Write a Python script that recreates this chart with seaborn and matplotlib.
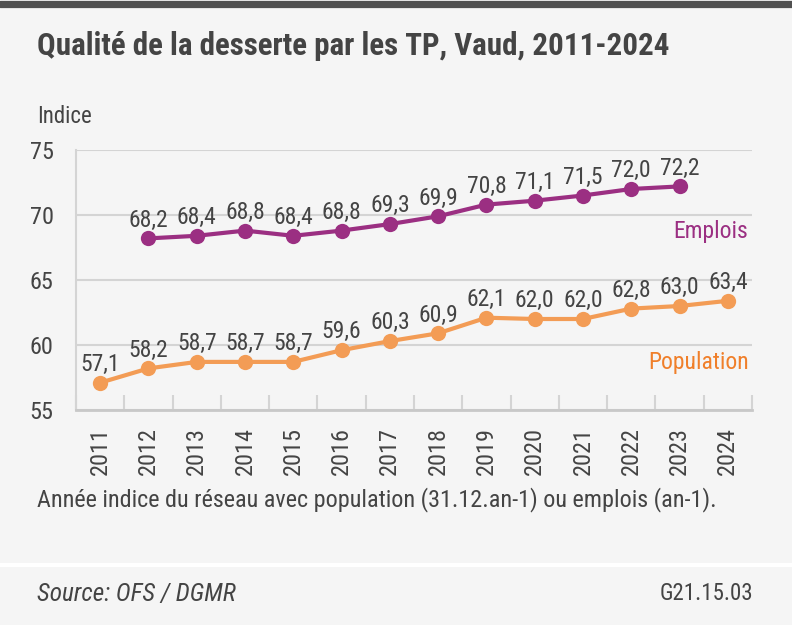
import matplotlib
matplotlib.use("Agg")
import matplotlib.pyplot as plt
from matplotlib import font_manager as fm
import seaborn as sns
import pandas as pd
from matplotlib.lines import Line2D
from matplotlib.ticker import FixedLocator

years = [2011, 2012, 2013, 2014, 2015, 2016, 2017, 2018, 2019, 2020, 2021, 2022, 2023, 2024]
population = [57.1, 58.2, 58.7, 58.7, 58.7, 59.6, 60.3, 60.9, 62.1, 62.0, 62.0, 62.8, 63.0, 63.4]
emplois_years = [2012, 2013, 2014, 2015, 2016, 2017, 2018, 2019, 2020, 2021, 2022, 2023]
emplois = [68.2, 68.4, 68.8, 68.4, 68.8, 69.3, 69.9, 70.8, 71.1, 71.5, 72.0, 72.2]
y_ticks = [55, 60, 65, 70, 75]

title = "Qualité de la desserte par les TP, Vaud, 2011-2024"
ylabel = "Indice"
note = "Année indice du réseau avec population (31.12.an-1) ou emplois (an-1)."
source = "Source: OFS / DGMR"
code = "G21.15.03"

BG = "#f5f5f5"
TXT = "#444444"
PURPLE = "#9b2f82"
ORANGE = "#f39c55"
ORANGE_TXT = "#f07f2a"
GRID = "#d4d4d4"

sns.set_theme(style="white")

# look for a narrow / condensed sans-serif face, otherwise Liberation Sans at reduced size
entries = fm.fontManager.ttflist
names = {f.name for f in entries}
chosen = None
for n in ["Liberation Sans Narrow", "Arial Narrow", "Roboto Condensed",
          "Open Sans Condensed", "Noto Sans Condensed"]:
    if n in names:
        chosen = (n, "normal")
        break
if chosen is None:
    for fam in ["Noto Sans", "Open Sans", "Roboto"]:
        cands = [f for f in entries if f.name == fam and f.stretch in ("condensed", "semi-condensed", 75, 87.5)]
        if cands:
            chosen = (fam, cands[0].stretch)
            break

if chosen is not None:
    plt.rcParams["font.family"] = [chosen[0], "Liberation Sans", "DejaVu Sans"]
    plt.rcParams["font.stretch"] = chosen[1]
    k = 1.0
else:
    plt.rcParams["font.family"] = ["Liberation Sans", "DejaVu Sans"]
    k = 0.86

fig = plt.figure(figsize=(7.92, 6.25), dpi=100, facecolor=BG)
ax = fig.add_axes([76/792, 1-410/625, 676/792, 260/625])
ax.set_facecolor(BG)

df_pop = pd.DataFrame({"year": years, "value": population})
df_emp = pd.DataFrame({"year": emplois_years, "value": emplois})

for df, col in [(df_emp, PURPLE), (df_pop, ORANGE)]:
    sns.lineplot(data=df, x="year", y="value", ax=ax, color=col, lw=3,
                 marker="o", markersize=11, markeredgewidth=0, zorder=3)
    for x, v in zip(df["year"], df["value"]):
        ax.annotate(f"{v:.1f}".replace(".", ","), (x, v), xytext=(0, 8.5),
                    textcoords="offset points", ha="center", va="baseline",
                    fontsize=17*k, color=TXT, zorder=4)

ax.set_xlim(2010.5, 2024.5)
ax.set_ylim(55, 75)
ax.set_yticks(y_ticks)
ax.set_yticklabels([str(t) for t in y_ticks])
ax.set_xticks(years)
ax.set_xticklabels([str(y) for y in years], rotation=90)
ax.xaxis.set_minor_locator(FixedLocator([y + 0.5 for y in [2010] + years]))
ax.tick_params(axis="x", which="major", length=0, pad=12, labelsize=17.5*k, labelcolor=TXT)
ax.tick_params(axis="x", which="minor", direction="in", length=11, width=1.5, color=GRID, bottom=True)
ax.tick_params(axis="y", length=0, pad=16, labelsize=17.5*k, labelcolor=TXT)
ax.set_xlabel("")
ax.set_ylabel("")

ax.grid(axis="y", color=GRID, lw=1.5)
ax.grid(axis="x", visible=False)
for s in ["top", "right"]:
    ax.spines[s].set_visible(False)
ax.spines["left"].set_color(GRID)
ax.spines["left"].set_linewidth(1.5)
ax.spines["bottom"].set_color("#c8c8c8")
ax.spines["bottom"].set_linewidth(2)
ax.set_axisbelow(True)

ax.text(0.994, 0.685, "Emplois", transform=ax.transAxes, ha="right", va="center",
        fontsize=17*k, color=PURPLE)
ax.text(0.995, 0.181, "Population", transform=ax.transAxes, ha="right", va="center",
        fontsize=17*k, color=ORANGE_TXT)

# decorations
fig.add_artist(Line2D([0, 1], [1-3.5/625, 1-3.5/625], transform=fig.transFigure,
                      color="#505050", lw=5.2))
fig.add_artist(Line2D([0, 1], [1-565/625, 1-565/625], transform=fig.transFigure,
                      color="white", lw=3))

fig.text(37/792, 1-55/625, title, fontsize=22.3*k, fontweight="bold", color=TXT, va="baseline", ha="left")
fig.text(37/792, 1-123/625, ylabel, fontsize=16.5*k, color=TXT, va="baseline", ha="left")
fig.text(37/792, 1-500/625, note, fontsize=17.4*k, color=TXT, va="center", ha="left")
fig.text(37/792, 1-594/625, source, fontsize=18.2*k, color=TXT, va="center", ha="left", style="italic")
fig.text(753/792, 1-594/625, code, fontsize=16.5*k, color=TXT, va="center", ha="right")

fig.savefig("out.png", dpi=100, facecolor=BG)
